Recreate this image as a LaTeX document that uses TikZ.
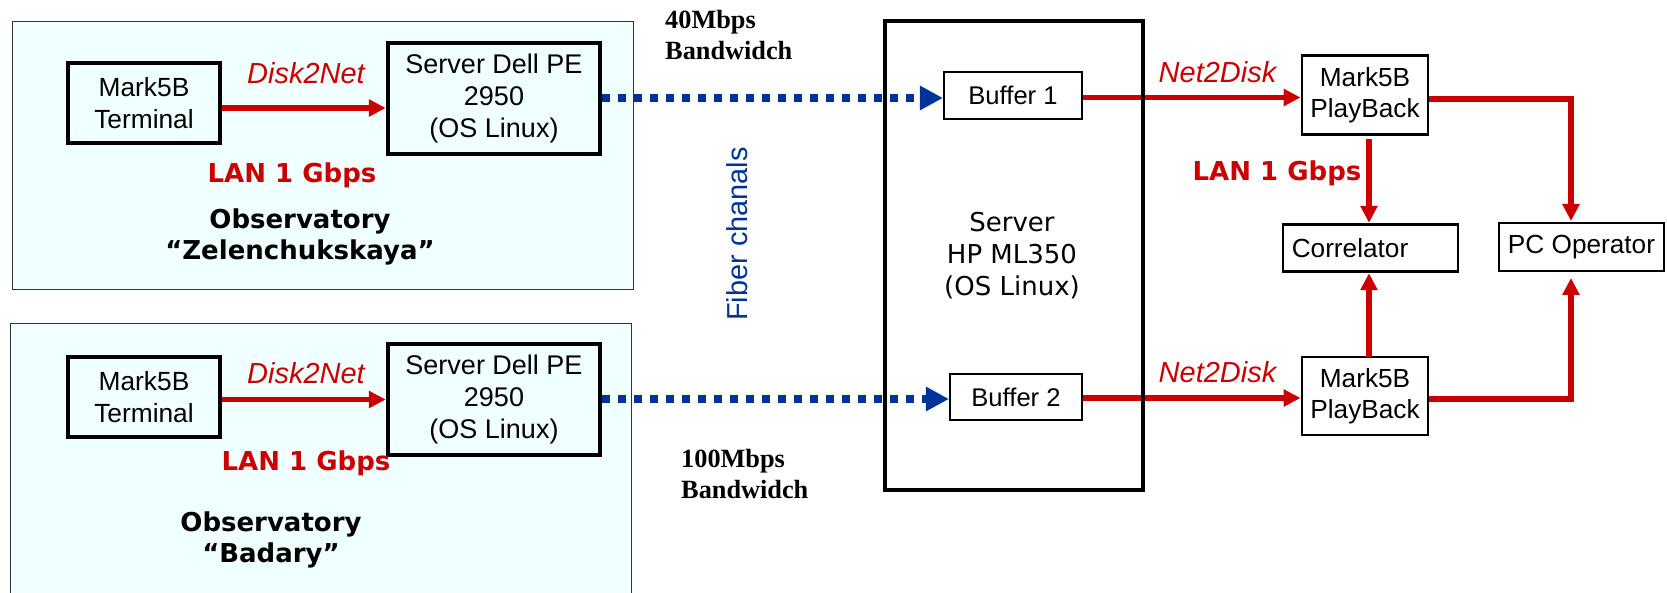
\documentclass[tikz,border=0pt]{standalone}
\usepackage{fontspec}
\setmainfont{Liberation Sans}
\newfontfamily\verd{DejaVu Sans}
\newfontfamily\tms{Liberation Serif}
\usetikzlibrary{arrows.meta}
\definecolor{lanred}{HTML}{CC0000}
\definecolor{fibblue}{HTML}{003399}
\definecolor{obsfill}{HTML}{F0FFFF}
\begin{document}
\begin{tikzpicture}[x=1pt,y=-1pt,
  obsbox/.style={draw=black!80, line width=1pt, fill=obsfill, inner sep=0pt},
  termbox/.style={draw, line width=3.7pt, inner sep=0pt, align=center, font=\fontsize{26.3}{32}\selectfont},
  dellbox/.style={draw, line width=4.5pt, inner sep=0pt, align=center, font=\fontsize{27}{32}\selectfont},
  bufbox/.style={draw, line width=2.1pt, inner sep=0pt, font=\fontsize{25.6}{30}\selectfont},
  hpbox/.style={draw, line width=4.3pt, inner sep=0pt},
  hptext/.style={align=center, inner sep=0pt, font=\verd\fontsize{26}{32}\selectfont},
  rbox/.style={draw, line width=2.9pt, inner sep=0pt, align=center, font=\fontsize{26.2}{31.3}\selectfont},
  lanarrow/.style={draw=lanred, line width=5.3pt, -{Triangle[length=17pt,width=16.5pt]}},
  fiber/.style={draw=fibblue, line width=7.5pt, dash pattern=on 7.5pt off 8.5pt, -{Triangle[length=23pt,width=23pt]}},
  dlabel/.style={text=lanred, inner sep=0pt, font=\itshape\fontsize{29}{33}\selectfont},
  lanlabel/.style={text=lanred, inner sep=0pt, font=\verd\bfseries\fontsize{26}{30}\selectfont},
  obslabel/.style={align=center, inner sep=0pt, font=\verd\bfseries\fontsize{26}{31}\selectfont},
  bwlabel/.style={align=left, anchor=west, inner sep=0pt, font=\tms\bfseries\fontsize{26.3}{31.3}\selectfont},
  fiblabel/.style={rotate=90, text=fibblue, inner sep=0pt, font=\fontsize{28.9}{33}\selectfont}]
\useasboundingbox (0,0) rectangle (1667,593);

% observatory panels
\node[obsbox, minimum width=621pt, minimum height=268pt] (obs1) at (322.5,156) {};
\node[obsbox, minimum width=621pt, minimum height=273pt] (obs2) at (320.5,460.5) {};

% left boxes
\node[termbox, minimum width=152pt, minimum height=80pt] (term1) at (144,103) {Mark5B\\Terminal};
\node[dellbox, minimum width=212pt, minimum height=111pt] (dell1) at (494,98.5) {Server Dell PE\\2950\\(OS Linux)};
\node[termbox, minimum width=152pt, minimum height=80pt] (term2) at (144,397) {Mark5B\\Terminal};
\node[dellbox, minimum width=212pt, minimum height=111pt] (dell2) at (494,399.5) {Server Dell PE\\2950\\(OS Linux)};

% left labels
\node[dlabel] (d2n1) at (306,73) {Disk2Net};
\node[dlabel] (d2n2) at (306,373) {Disk2Net};
\node[lanlabel] (lan1) at (292,175) {LAN 1 Gbps};
\node[lanlabel] (lan2) at (306,463) {LAN 1 Gbps};
\node[obslabel] (obst1) at (300,236.5) {Observatory\\“Zelenchukskaya”};
\node[obslabel] (obst2) at (271,539.5) {Observatory\\“Badary”};

% middle labels
\node[bwlabel] (bw1) at (665,35) {40Mbps\\Bandwidch};
\node[bwlabel] (bw2) at (681,474) {100Mbps\\Bandwidch};
\node[fiblabel] (fib) at (737,234) {Fiber chanals};

% buffers
\node[bufbox, minimum width=138pt, minimum height=47pt] (buf1) at (1013,95.5) {Buffer 1};
\node[bufbox, minimum width=132pt, minimum height=46pt] (buf2) at (1016,397) {Buffer 2};

% right boxes
\node[rbox, minimum width=126pt, minimum height=79.5pt] (pb1) at (1365,95) {Mark5B\\PlayBack};
\node[rbox, minimum width=126pt, minimum height=78pt] (pb2) at (1365,396) {Mark5B\\PlayBack};
\node[rbox, minimum width=175pt, minimum height=47.5pt] (corr) at (1370.5,248) {Correlator\hspace*{41pt}};
\node[rbox, minimum width=165pt, minimum height=48pt] (pc) at (1581.5,247) {PC Operator};

% right labels
\node[dlabel] (n2d1) at (1217.5,72) {Net2Disk};
\node[dlabel] (n2d2) at (1217.5,372) {Net2Disk};
\node[lanlabel] (lan3) at (1277,173) {LAN 1 Gbps};

% connectors
\draw[lanarrow] (term1.east |- 0,108) -- (dell1.west |- 0,108);
\draw[lanarrow] (term2.east |- dell2.west) -- (dell2.west);
\draw[fiber] (dell1.east |- 0,98) -- (buf1.west |- 0,98);
\draw[fiber] (dell2.east |- 0,399) -- (buf2.west |- 0,399);
\draw[lanarrow] (buf1.east |- 0,97.5) -- (pb1.west |- 0,97.5);
\draw[lanarrow] (buf2.east |- 0,398) -- (pb2.west |- 0,398);
\coordinate (corrin1) at (1369,139);
\coordinate (corrin2) at (1369,357);
\draw[lanarrow] (corrin1) -- (corrin1 |- corr.north);
\draw[lanarrow] (corrin2) -- (corrin2 |- corr.south);
\coordinate (pcin1) at (1571,221);
\coordinate (pcin2) at (1571,278);
\draw[lanarrow] (pb1.east |- 0,99) -| (pcin1);
\draw[lanarrow] (pb2.east |- 0,399) -| (pcin2);

% central server
\node[hpbox, minimum width=258pt, minimum height=469pt] (hp) at (1014,255.5) {};
\node[hptext] (hpt) at (1012,255.5) {Server\\HP ML350\\(OS Linux)};
\end{tikzpicture}
\end{document}
